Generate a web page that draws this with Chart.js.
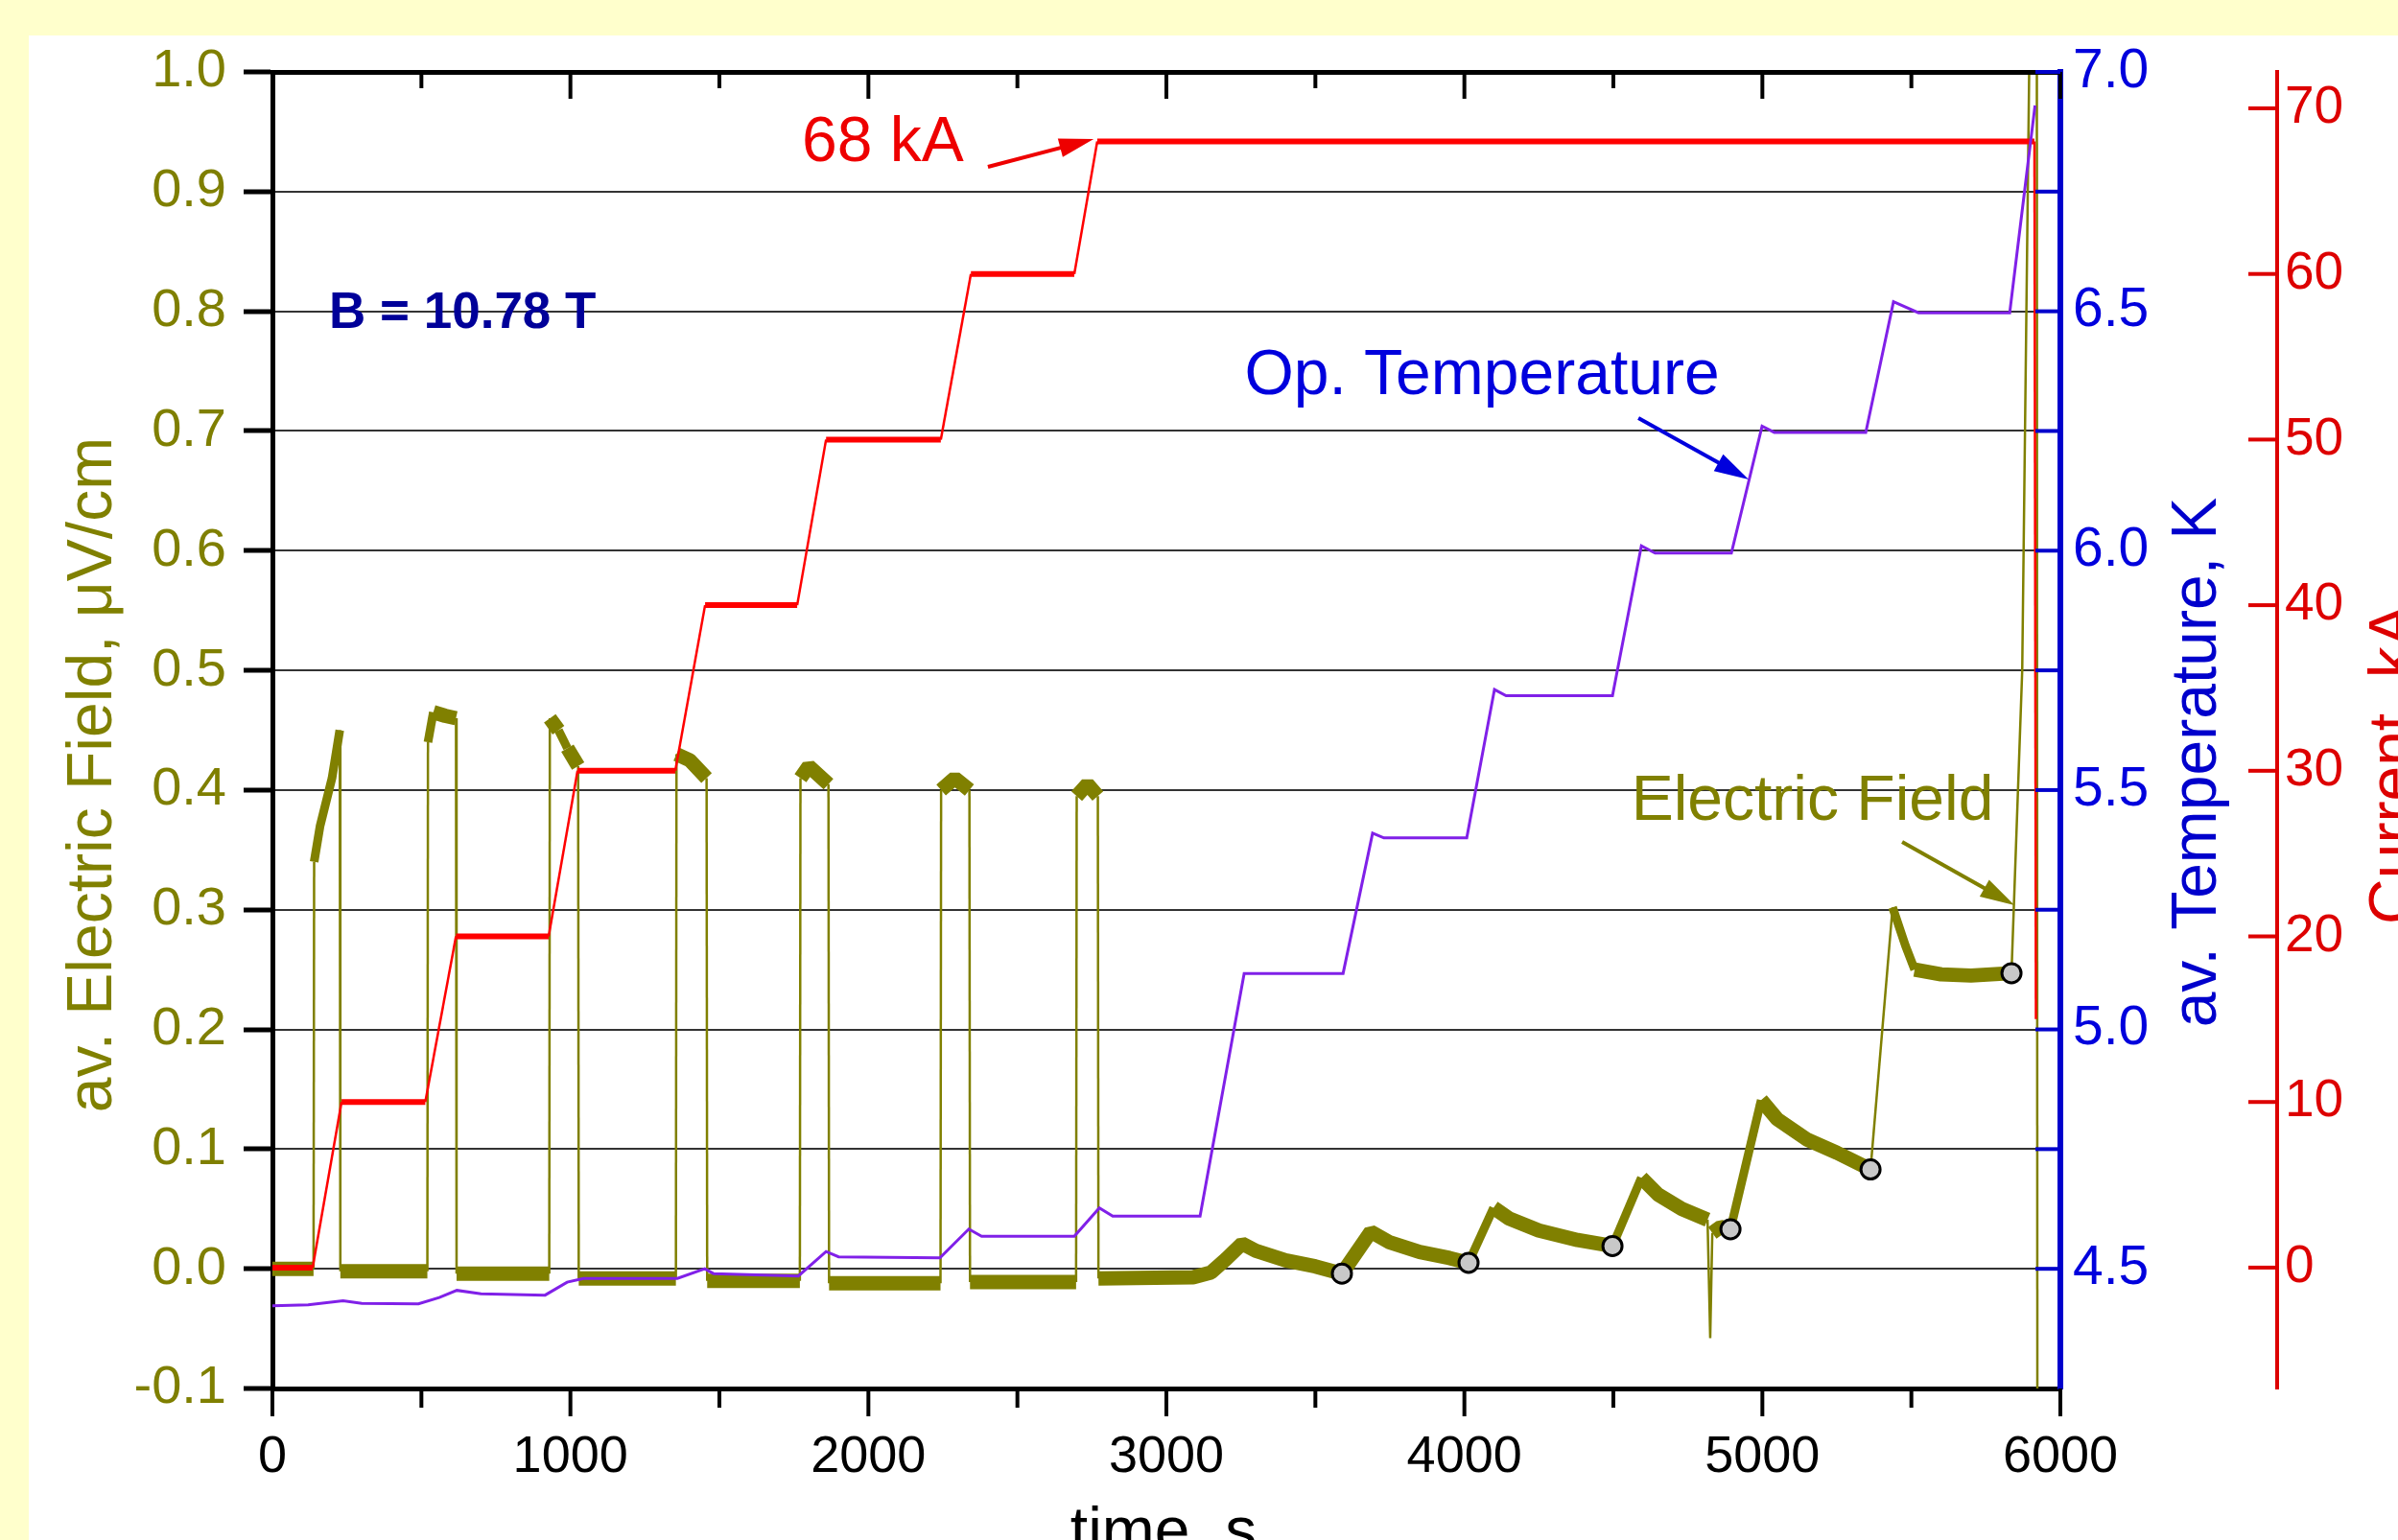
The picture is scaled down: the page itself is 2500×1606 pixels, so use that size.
<!DOCTYPE html>
<html>
<head>
<meta charset="utf-8">
<title>Current steps at B = 10.78 T</title>
<script src="https://cdn.jsdelivr.net/npm/chart.js@4.4.1/dist/chart.umd.min.js"></script>
<style>
  html, body { margin: 0; padding: 0; background: #FFFFCC; }
  #wrap { width: 2500px; height: 1606px; }
</style>
</head>
<body>
<div id="wrap"><canvas id="runChart" width="2500" height="1606"></canvas></div>
<script>
// ---- data ----
// average electric field, uV/cm (left axis)
const fieldTime = [0, 138, 140, 160, 200, 226, 228, 520, 522, 540, 580, 616, 618, 929, 931, 960, 990, 1026, 1028,
  1354, 1356, 1400, 1457, 1459, 1770, 1772, 1800, 1866, 1868, 2242, 2244, 2290, 2339, 2341, 2697, 2699, 2735, 2770, 2772,
  3090, 3150, 3200, 3254, 3300, 3400, 3500, 3589, 3686, 3750, 3850, 3950, 4014, 4098, 4150, 4250, 4380, 4497,
  4594, 4650, 4730, 4816, 4825, 4832, 4860, 4893, 4996, 5050, 5150, 5250, 5363, 5437, 5480, 5511, 5600, 5700, 5836,
  5872, 5900, 5921, 5923];
const fieldValue = [0.0, 0.0, 0.34, 0.37, 0.41, 0.45, -0.002, -0.002, 0.44, 0.465, 0.462, 0.46, -0.004, -0.004, 0.46, 0.45, 0.435, 0.42, -0.008,
  -0.008, 0.43, 0.425, 0.41, -0.01, -0.01, 0.41, 0.42, 0.405, -0.012, -0.012, 0.40, 0.41, 0.40, -0.011, -0.011, 0.395, 0.405, 0.395, -0.008,
  -0.007, -0.003, 0.008, 0.021, 0.015, 0.007, 0.002, -0.004, 0.031, 0.022, 0.014, 0.009, 0.005, 0.051, 0.042, 0.032, 0.024, 0.019,
  0.076, 0.062, 0.05, 0.041, -0.058, 0.03, 0.035, 0.033, 0.141, 0.125, 0.108, 0.097, 0.083, 0.302, 0.27, 0.25, 0.246, 0.245, 0.247,
  0.5, 1.1, 1.1, -0.2];

// points picked out on the field trace
const markTime = [3589, 4014, 4497, 4893, 5363, 5836];
const markValue = [-0.004, 0.005, 0.019, 0.033, 0.083, 0.247];

// operating temperature, K (blue axis)
const tempTime = [0, 120, 237, 300, 490, 560, 619, 700, 915, 989, 1044, 1359, 1451, 1480, 1765, 1858, 1900, 2240,
  2337, 2380, 2691, 2775, 2820, 3113, 3261, 3593, 3692, 3730, 4008, 4101, 4140, 4497, 4594, 4640, 4896,
  4999, 5040, 5347, 5440, 5524, 5830, 5915];
const tempValue = [4.423, 4.425, 4.433, 4.428, 4.427, 4.44, 4.455, 4.448, 4.445, 4.472, 4.48, 4.48, 4.50, 4.49, 4.485, 4.536, 4.525, 4.523,
  4.583, 4.568, 4.568, 4.627, 4.61, 4.61, 5.117, 5.117, 5.41, 5.40, 5.40, 5.71, 5.697, 5.697, 6.01, 5.995, 5.995,
  6.26, 6.247, 6.247, 6.52, 6.497, 6.497, 6.93];

// transport current, kA (red axis)
const currentTime = [0, 135, 232, 513, 616, 927, 1024, 1352, 1452, 1761, 1858, 2243, 2344, 2691, 2768, 5913, 5918];
const currentValue = [0, 0, 10, 10, 20, 20, 30, 30, 40, 40, 50, 50, 60, 60, 68, 68, 15];

// tick values
const timeTicks = [0, 500, 1000, 1500, 2000, 2500, 3000, 3500, 4000, 4500, 5000, 5500, 6000];
const tempTicks = [4.5, 4.75, 5.0, 5.25, 5.5, 5.75, 6.0, 6.25, 6.5, 6.75, 7.0];
const currentTicks = [0, 10, 20, 30, 40, 50, 60, 70];

// annotations, anchored in (time, field) units
const noteText = ['68 kA', 'Op. Temperature', 'Electric Field', 'B = 10.78 T'];
const noteTime = [1777, 3262, 4560, 190];
const noteField = [0.9255, 0.731, 0.375, 0.786];
const arrowFromTime = [2401, 4584, 5469];
const arrowFromField = [0.9207, 0.7108, 0.3567];
const arrowToTime = [2756, 4954, 5846];
const arrowToField = [0.9439, 0.6595, 0.3038];

const FONT = '"Liberation Sans", Arial, sans-serif';
const OLIVE = '#808000';
const BLUE = '#0000DD';
const RED = '#EE0000';

const pts = (xs, ys) => xs.map((x, i) => ({ x: x, y: ys[i] }));

// thin line on steep parts, thick band on the noisy flat parts
function fieldWidth(ctx) {
  const dx = Math.abs(ctx.p1.x - ctx.p0.x) + 0.01;
  const r = Math.abs(ctx.p1.y - ctx.p0.y) / dx;
  if (r > 8) return 2.5;
  if (r > 2) return 9;
  return 15;
}
function currentWidth(ctx) {
  const dx = Math.abs(ctx.p1.x - ctx.p0.x) + 0.01;
  return Math.abs(ctx.p1.y - ctx.p0.y) / dx > 2 ? 2.5 : 6;
}

function drawArrow(c, x0, y0, x1, y1, color) {
  const a = Math.atan2(y1 - y0, x1 - x0);
  const L = 36, W = 10;
  c.strokeStyle = color;
  c.fillStyle = color;
  c.lineWidth = 4;
  c.beginPath();
  c.moveTo(x0, y0);
  c.lineTo(x1 - L * Math.cos(a) * 0.8, y1 - L * Math.sin(a) * 0.8);
  c.stroke();
  c.beginPath();
  c.moveTo(x1, y1);
  c.lineTo(x1 - L * Math.cos(a) + W * Math.sin(a), y1 - L * Math.sin(a) - W * Math.cos(a));
  c.lineTo(x1 - L * Math.cos(a) - W * Math.sin(a), y1 - L * Math.sin(a) + W * Math.cos(a));
  c.closePath();
  c.fill();
}

function vText(c, str, x, y, color) {
  c.save();
  c.translate(x, y);
  c.rotate(-Math.PI / 2);
  c.textAlign = 'center';
  c.textBaseline = 'alphabetic';
  c.fillStyle = color;
  c.fillText(str, 0, 0);
  c.restore();
}

const decor = {
  id: 'decor',
  beforeDraw(chart) {
    const c = chart.ctx;
    c.save();
    c.fillStyle = '#FFFFCC';
    c.fillRect(0, 0, chart.width, chart.height);
    c.fillStyle = '#FFFFFF';
    c.fillRect(30, 37, chart.width - 30, chart.height - 37);
    c.restore();
  },
  afterDraw(chart) {
    const c = chart.ctx;
    const xs = chart.scales.x, ys = chart.scales.y, yt = chart.scales.y1, yc = chart.scales.y2;
    const { left, right, top, bottom } = chart.chartArea;
    c.save();

    // top frame line
    c.fillStyle = '#000';
    c.fillRect(left - 2, top - 2, right - left + 2, 5);

    // time ticks, bottom outward and top inward
    timeTicks.forEach(t => {
      const px = xs.getPixelForValue(t);
      const major = t % 1000 === 0;
      c.fillRect(px - 2, bottom, 4, major ? 29 : 20);
      c.fillRect(px - 2, top, 4, major ? 28 : 17);
    });

    // temperature ticks point into the plot
    c.fillStyle = '#0000CC';
    tempTicks.forEach(v => {
      const py = yt.getPixelForValue(v);
      c.fillRect(right - 26, py - 2, 26, 4);
    });

    // current ticks on the left side of the red axis
    c.fillStyle = '#DD0000';
    currentTicks.forEach(v => {
      const py = yc.getPixelForValue(v);
      c.fillRect(yc.left - 30, py - 2, 30, 4);
    });

    // axis titles
    c.font = '66px ' + FONT;
    vText(c, 'av. Electric Field, \u03BCV/cm', 116, 808, OLIVE);
    vText(c, 'av. Temperature, K', 2310, 795, '#0000CC');
    vText(c, 'Current, kA', 2516, 797, '#DD0000');
    c.fillStyle = '#000';
    c.textAlign = 'center';
    c.textBaseline = 'alphabetic';
    c.fillText('time, s', 1213, 1618);

    // notes and arrows
    const noteColor = [RED, BLUE, OLIVE, '#000099'];
    noteText.forEach((s, i) => {
      c.font = (i === 3 ? 'bold 53px ' : '66px ') + FONT;
      c.fillStyle = noteColor[i];
      c.textAlign = 'left';
      c.fillText(s, xs.getPixelForValue(noteTime[i]), ys.getPixelForValue(noteField[i]));
    });
    arrowFromTime.forEach((t, i) => {
      drawArrow(c,
        xs.getPixelForValue(t), ys.getPixelForValue(arrowFromField[i]),
        xs.getPixelForValue(arrowToTime[i]), ys.getPixelForValue(arrowToField[i]),
        noteColor[i]);
    });
    c.restore();
  }
};

new Chart(document.getElementById('runChart'), {
  type: 'line',
  data: {
    datasets: [
      {
        label: 'marked points',
        data: pts(markTime, markValue),
        yAxisID: 'y',
        showLine: false,
        pointRadius: 10,
        pointBackgroundColor: '#C8C8C8',
        pointBorderColor: '#000',
        pointBorderWidth: 3
      },
      {
        label: 'Op. Temperature',
        data: pts(tempTime, tempValue),
        yAxisID: 'y1',
        borderColor: '#8020E8',
        borderWidth: 3,
        pointRadius: 0,
        clip: 0
      },
      {
        label: 'Current',
        data: pts(currentTime, currentValue),
        yAxisID: 'y2',
        borderColor: '#FF0000',
        borderWidth: 6,
        segment: { borderWidth: currentWidth },
        pointRadius: 0,
        clip: 0
      },
      {
        label: 'Electric Field',
        data: pts(fieldTime, fieldValue),
        yAxisID: 'y',
        borderColor: OLIVE,
        borderWidth: 15,
        segment: { borderWidth: fieldWidth },
        borderJoinStyle: 'bevel',
        pointRadius: 0,
        clip: 0
      }
    ]
  },
  options: {
    responsive: false,
    animation: false,
    devicePixelRatio: 1,
    layout: { padding: { top: 75, left: 0, right: 0, bottom: 0 } },
    plugins: { legend: { display: false }, tooltip: { enabled: false } },
    elements: { line: { tension: 0 } },
    scales: {
      x: {
        type: 'linear',
        position: 'bottom',
        min: 0,
        max: 6000,
        afterFit: s => { s.height = 158; },
        ticks: { stepSize: 1000, color: '#000', padding: 40, font: { family: FONT, size: 54 }, maxRotation: 0,
          callback: v => String(v) },
        grid: { display: false, drawTicks: false },
        border: { display: true, color: '#000', width: 5 }
      },
      y: {
        type: 'linear',
        position: 'left',
        min: -0.1,
        max: 1.0,
        afterFit: s => { s.width = 284; },
        ticks: { stepSize: 0.1, maxTicksLimit: 20, includeBounds: false, color: '#7F7F00', padding: 18,
          font: { family: FONT, size: 56 }, callback: v => v.toFixed(1) },
        grid: { color: '#333333', lineWidth: 2, drawTicks: true, tickLength: 30, tickColor: '#000', tickWidth: 5 },
        border: { display: true, color: '#000', width: 5 }
      },
      y1: {
        type: 'linear',
        position: 'right',
        weight: 0,
        min: 4.25,
        max: 7.0,
        afterFit: s => { s.width = 226; },
        ticks: { stepSize: 0.5, includeBounds: false, color: BLUE, padding: 13,
          font: { family: FONT, size: 57 }, callback: v => v.toFixed(1) },
        grid: { display: false, drawTicks: false, drawOnChartArea: false },
        border: { display: true, color: '#0000CC', width: 6 }
      },
      y2: {
        type: 'linear',
        position: 'right',
        weight: 1,
        min: -7.3,
        max: 72.2,
        afterFit: s => { s.width = 126; },
        ticks: { stepSize: 10, includeBounds: false, color: '#DD0000', padding: 8,
          font: { family: FONT, size: 55 }, callback: v => String(v) },
        grid: { display: false, drawTicks: false, drawOnChartArea: false },
        border: { display: true, color: '#DD0000', width: 4 }
      }
    }
  },
  plugins: [decor]
});
</script>
</body>
</html>
